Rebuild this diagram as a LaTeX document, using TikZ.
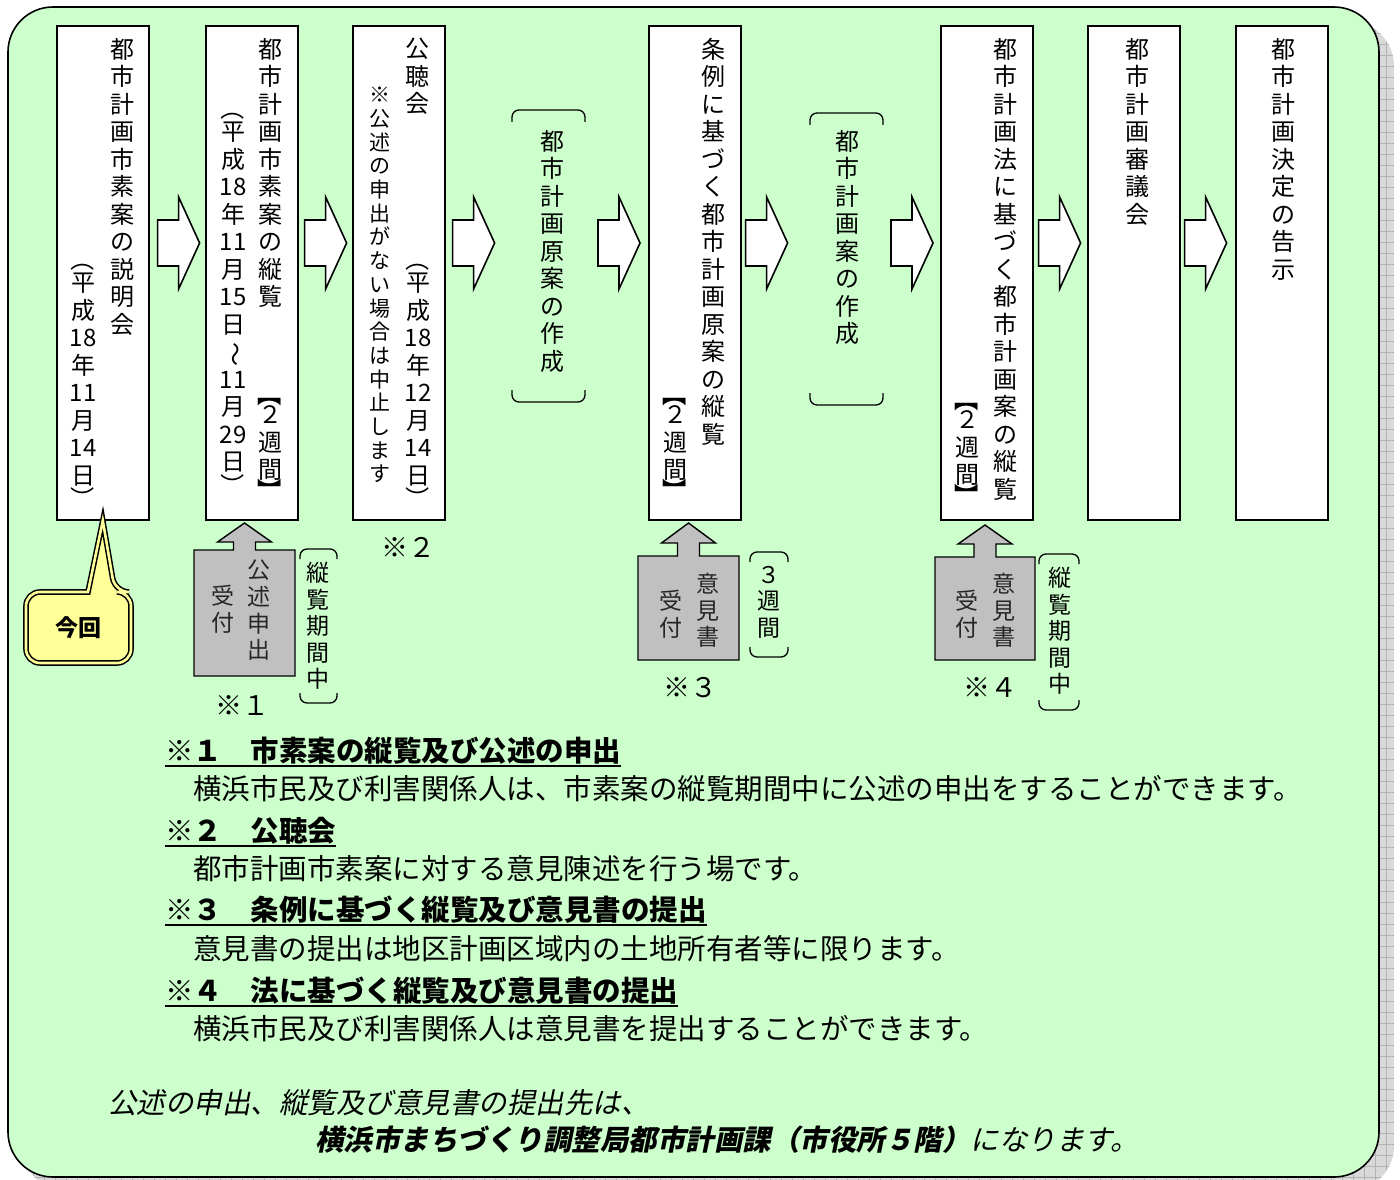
\documentclass[tikz,border=0pt]{standalone}
\usepackage{fontspec}
\usepackage{graphicx}
\usetikzlibrary{calc}
\newfontfamily\jp{Noto Sans CJK JP}
\newfontfamily\jpi[FakeSlant=0.2]{Noto Sans CJK JP}
\newcommand\rv[1]{\rotatebox[origin=c]{-90}{#1}}
\definecolor{bggreen}{HTML}{CCFFCC}
\definecolor{callyellow}{HTML}{FFFF99}
\definecolor{boxgray}{HTML}{C0C0C0}
\tikzset{
  stagebox/.style={draw=black, fill=white, line width=1.6pt, anchor=north west, minimum width=92pt, minimum height=494pt, inner sep=0pt},
  plainbox/.style={anchor=north west, inner sep=0pt, outer sep=0pt},
  vt/.style={anchor=north, inner sep=0pt, align=center, font=\jp\fontsize{24}{27.5}\selectfont},
  vts/.style={anchor=north, inner sep=0pt, align=center, font=\jp\fontsize{21}{23.7}\selectfont},
  vtg/.style={anchor=north, inner sep=0pt, align=center, text=black!85, font=\jp\fontsize{23}{26.6}\selectfont},
  blockarrow/.style={draw=black, fill=white, line width=1.6pt, line join=miter},
  upbox/.style={draw=black, fill=boxgray, line width=1.4pt, line join=miter},
  brk/.style={draw=black, line width=1.3pt, rounded corners=7pt},
  notelabel/.style={inner sep=0pt, font=\jp\fontsize{27}{30}\selectfont},
  notehead/.style={anchor=west, inner sep=0pt, font=\jp\bfseries\fontsize{28.5}{32}\selectfont},
  notebody/.style={anchor=west, inner sep=0pt, font=\jp\fontsize{28.5}{32}\selectfont},
  foot/.style={anchor=west, inner sep=0pt, font=\jpi\fontsize{28.5}{32}\selectfont},
}
% block arrow: node name, offset from its east edge (height taken from the first stage box)
\newcommand\barrow[2]{\draw[blockarrow] ($(#1.east |- b1.north)+(#2,195)$) -- ++(21,0) -- ++(0,-23) -- ++(21,46) -- ++(-21,46) -- ++(0,-23) -- ++(-21,0) -- cycle;}
% brackets above and below a node
\newcommand\brackets[2]{%
  \draw[brk] ($(#1.north west)+(0,#2)$) -- (#1.north west) -- (#1.north east) -- ($(#1.north east)+(0,#2)$);
  \draw[brk] ($(#1.south west)+(0,-#2)$) -- (#1.south west) -- (#1.south east) -- ($(#1.south east)+(0,-#2)$);}
% gray box with up arrow: node, tip height, head base height
\newcommand\grayup[3]{\draw[upbox] (#1.north west) -- ($(#1.north)+(-11,0)$) -- ($(#1.north)+(-11,-#3)$) -- ($(#1.north)+(-27,-#3)$) -- ($(#1.north)+(0,-#2)$) -- ($(#1.north)+(27,-#3)$) -- ($(#1.north)+(11,-#3)$) -- ($(#1.north)+(11,0)$) -- (#1.north east) -- (#1.south east) -- (#1.south west) -- cycle;}
\newcommand\twoweeks{\rv{\bfseries【}\\[-7pt]２\\週\\間\\[-7pt]\rv{\bfseries】}}
\begin{document}
\begin{tikzpicture}[x=1pt, y=-1pt]
\useasboundingbox (0,0) rectangle (1400,1180);
% shadow
\begin{scope}
  \clip[rounded corners=45pt] (22,21) rectangle (1394,1191);
  \fill[gray!30] (0,0) rectangle (1400,1200);
  \foreach \i in {0,11,...,1400} \draw[gray!60, line width=0.5pt] (\i,0) -- (\i,1200);
  \foreach \j in {0,11,...,1200} \draw[gray!60, line width=0.5pt] (0,\j) -- (1400,\j);
\end{scope}
% background panel
\draw[fill=bggreen, line width=1.6pt, rounded corners=45pt] (8,7) rectangle (1379,1177);

% stage boxes
\node[stagebox] (b1) at (56,25) {};
\node[stagebox] (b2) at (205,25) {};
\node[stagebox] (b3) at (352,25) {};
\node[plainbox, minimum width=73pt, minimum height=292pt] (b4) at (512,110) {};
\node[stagebox] (b5) at (648,25) {};
\node[plainbox, minimum width=73pt, minimum height=292pt] (b6) at (810,113) {};
\node[stagebox] (b7) at (940,25) {};
\node[stagebox] (b8) at (1087,25) {};
\node[stagebox] (b9) at (1235,25) {};
\brackets{b4}{12}
\brackets{b6}{12}

% block arrows
\barrow{b1}{8}
\barrow{b2}{6}
\barrow{b3}{7}
\barrow{b4}{13}
\barrow{b5}{4}
\barrow{b6}{8}
\barrow{b7}{5}
\barrow{b8}{4}

% texts in stage boxes
\node[vt] (t1a) at (122,38) {都\\市\\計\\画\\市\\素\\案\\の\\説\\明\\会};
\node[vt] (t1b) at (83,247) {\rv{（}\\[-4pt]平\\成\\18\\年\\11\\月\\14\\日\\[-4pt]\rv{）}};
\node[vt] (t2a) at (270,38) {都\\市\\計\\画\\市\\素\\案\\の\\縦\\覧};
\node[vt] (t2c) at (270,382) {\twoweeks};
\node[vt] (t2b) at (233,96) {\rv{（}\\[-4pt]平\\成\\18\\年\\11\\月\\15\\日\\\rv{～}\\11\\月\\29\\日\\[-4pt]\rv{）}};
\node[vt] (t3a) at (417,38) {公\\聴\\会};
\node[vts] (t3s) at (380,87) {※\\公\\述\\の\\申\\出\\が\\な\\い\\場\\合\\は\\中\\止\\し\\ま\\す};
\node[vt] (t3b) at (418,247) {\rv{（}\\[-4pt]平\\成\\18\\年\\12\\月\\14\\日\\[-4pt]\rv{）}};
\node[vt] (t4) at (552,130) {都\\市\\計\\画\\原\\案\\の\\作\\成};
\node[vt] (t5a) at (713,38) {条\\例\\に\\基\\づ\\く\\都\\市\\計\\画\\原\\案\\の\\縦\\覧};
\node[vt] (t5b) at (675,382) {\twoweeks};
\node[vt] (t6) at (847,130) {都\\市\\計\\画\\案\\の\\作\\成};
\node[vt] (t7a) at (1005,38) {都\\市\\計\\画\\法\\に\\基\\づ\\く\\都\\市\\計\\画\\案\\の\\縦\\覧};
\node[vt] (t7b) at (967,387) {\twoweeks};
\node[vt] (t8) at (1137,38) {都\\市\\計\\画\\審\\議\\会};
\node[vt] (t9) at (1283,38) {都\\市\\計\\画\\決\\定\\の\\告\\示};

% "今回" callout
\node[plainbox, minimum width=105pt, minimum height=71pt] (cur) at (26,592) {};
\draw[draw=black, double=callyellow, double distance=2.6pt, line width=1.5pt, fill=callyellow]
  (b1.south) -- ($(cur.north west)+(62,0)$) [rounded corners=14pt] -- (cur.north west) -- (cur.south west) -- (cur.south east) -- (cur.north east) -- ($(cur.north west)+(89,0)$) [sharp corners] -- cycle;
\node[font=\jp\bfseries\fontsize{23}{26}\selectfont, inner sep=0pt] (curtext) at (cur) {今回};

% gray boxes with up arrows
\node[plainbox, minimum width=101pt, minimum height=126pt] (g1) at (194,550) {};
\grayup{g1}{27}{8}
\node[vtg] (g1a) at (259,560) {公\\述\\申\\出};
\node[vtg] (g1b) at (223,585) {受\\付};
\node[plainbox, minimum width=37pt, minimum height=154pt] (k1) at (300,549) {};
\brackets{k1}{10}
\node[vtg, text=black] (k1t) at (318,562) {縦\\覧\\期\\間\\中};
\node[notelabel] (m1) at (242,706) {※１};
\node[notelabel] (m2) at (408,547) {※２};

\node[plainbox, minimum width=101pt, minimum height=104pt] (g2) at (638,556) {};
\grayup{g2}{33}{13}
\node[vtg] (g2a) at (708,573) {意\\見\\書};
\node[vtg] (g2b) at (671,590) {受\\付};
\node[plainbox, minimum width=38pt, minimum height=105pt] (k2) at (750,552) {};
\brackets{k2}{10}
\node[vtg, text=black] (k2t) at (769,566) {３\\週\\間};
\node[notelabel] (m3) at (690,688) {※３};

\node[plainbox, minimum width=100pt, minimum height=103pt] (g3) at (935,557) {};
\grayup{g3}{32}{13}
\node[vtg] (g3a) at (1004,573) {意\\見\\書};
\node[vtg] (g3b) at (967,590) {受\\付};
\node[plainbox, minimum width=40pt, minimum height=156pt] (k3) at (1039,554) {};
\brackets{k3}{10}
\node[vtg, text=black] (k3t) at (1060,567) {縦\\覧\\期\\間\\中};
\node[notelabel] (m4) at (990,688) {※４};

% notes
\node[notehead] (n1h) at (165,751) {※１　市素案の縦覧及び公述の申出};
\node[notebody] (n1b) at (193,789) {横浜市民及び利害関係人は、市素案の縦覧期間中に公述の申出をすることができます。};
\node[notehead] (n2h) at (165,831) {※２　公聴会};
\node[notebody] (n2b) at (193,869) {都市計画市素案に対する意見陳述を行う場です。};
\node[notehead] (n3h) at (165,910) {※３　条例に基づく縦覧及び意見書の提出};
\node[notebody] (n3b) at (193,949) {意見書の提出は地区計画区域内の土地所有者等に限ります。};
\node[notehead] (n4h) at (165,991) {※４　法に基づく縦覧及び意見書の提出};
\node[notebody] (n4b) at (193,1029) {横浜市民及び利害関係人は意見書を提出することができます。};
\foreach \n in {n1h,n2h,n3h,n4h}
  \draw[line width=1.5pt] ($(\n.south west)+(0,1)$) -- ($(\n.south east)+(0,1)$);

% footer
\node[foot] (f1) at (108,1103) {公述の申出、縦覧及び意見書の提出先は、};
\node[foot] (f2) at (315,1140) {{\bfseries 横浜市まちづくり調整局都市計画課（市役所５階）}になります。};
\end{tikzpicture}
\end{document}
